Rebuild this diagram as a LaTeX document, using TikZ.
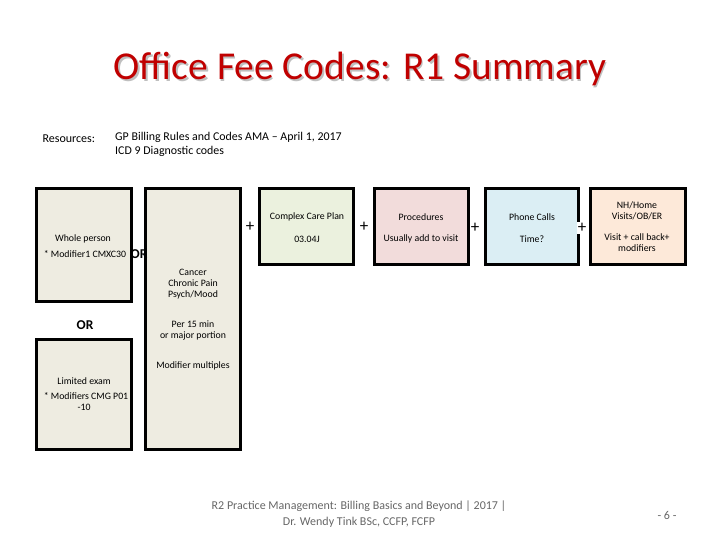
\documentclass[tikz,border=0pt]{standalone}
\usepackage{fontspec}
\setmainfont{Carlito}
\begin{document}
\begin{tikzpicture}[x=1pt,y=-1pt,
  bx/.style={draw=black,line width=3pt,align=center,inner sep=2pt},
  lbl/.style={font=\fontsize{9.8}{11}\selectfont,align=center},
  plus/.style={font=\fontsize{17}{17}\selectfont,fill=white,inner sep=1pt}]
\useasboundingbox (0,0) rectangle (720,540);
\definecolor{beige}{HTML}{EEECE1}
\definecolor{grn}{HTML}{EBF1DE}
\definecolor{pnk}{HTML}{F2DCDB}
\definecolor{blu}{HTML}{DBEEF4}
\definecolor{org}{HTML}{FDE9D9}
\definecolor{ttl}{HTML}{C00000}
\node[font=\fontsize{39.5}{40}\selectfont,text=gray!50] at (361.5,70.5) {Office Fee Codes: R1 Summary};
\node (title) [font=\fontsize{39.5}{40}\selectfont,text=ttl] at (360,69) {Office Fee Codes: R1 Summary};
\node (res) [anchor=west,font=\fontsize{12}{13}\selectfont] at (39,139) {Resources:};
\node (gp) [anchor=north west,align=left,font=\fontsize{11.9}{14}\selectfont,inner sep=0pt] at (115,132) {GP Billing Rules and Codes AMA -- April 1, 2017\\ICD 9 Diagnostic codes};
% boxes
\draw[bx,fill=beige] (36,189) rectangle (131,301);
\draw[bx,fill=beige] (36,339) rectangle (131,449);
\draw[bx,fill=beige] (145,189) rectangle (240,449);
\draw[bx,fill=grn] (259,189) rectangle (353,264);
\draw[bx,fill=pnk] (374,189) rectangle (468,264);
\draw[bx,fill=blu] (485,189) rectangle (578,264);
\draw[bx,fill=org] (590,189) rectangle (685,264);
% texts
\node (wp) [lbl] at (83,239) {Whole person};
\node (wp2) [lbl] at (85,254) {* Modifier1 CMXC30};
\node (or1) [font=\bfseries\fontsize{13.5}{13}\selectfont] at (139,254) {OR};
\node (or2) [font=\bfseries\fontsize{13.5}{13}\selectfont] at (85,325) {OR};
\node (le) [lbl] at (84,381) {Limited exam};
\node (le2) [lbl] at (86,396) {* Modifiers CMG P01};
\node (le3) [lbl] at (84,407) {-10};
\node (cc) [lbl] at (193,284) {Cancer\\Chronic Pain\\Psych/Mood};
\node (pm) [lbl] at (193,330) {Per 15 min\\or major portion};
\node (mm) [lbl] at (193,366) {Modifier multiples};
\node (ccp) [lbl] at (307,217) {Complex Care Plan};
\node (ccp2) [lbl] at (307,239) {03.04J};
\node (pr) [lbl] at (421,217) {Procedures};
\node (pr2) [lbl] at (421,239) {Usually add to visit};
\node (ph) [lbl] at (532,217) {Phone Calls};
\node (ph2) [lbl] at (532,239) {Time?};
\node (nh) [lbl] at (637,211) {NH/Home\\Visits/OB/ER};
\node (nh2) [lbl] at (637,243) {Visit + call back+\\modifiers};
\node (p1) [plus] at (250,227) {+};
\node (p2) [plus] at (364,227) {+};
\node (p3) [plus] at (475,228) {+};
\node (p4) [plus] at (582,228) {+};
\node (foot) [font=\fontsize{12}{16}\selectfont,text=gray!80!black,align=center] at (359,514) {R2 Practice Management: Billing Basics and Beyond | 2017 |\\Dr. Wendy Tink BSc, CCFP, FCFP};
\node (pg) [font=\fontsize{12}{13}\selectfont,text=gray!80!black] at (667,515) {- 6 -};
\end{tikzpicture}
\end{document}
